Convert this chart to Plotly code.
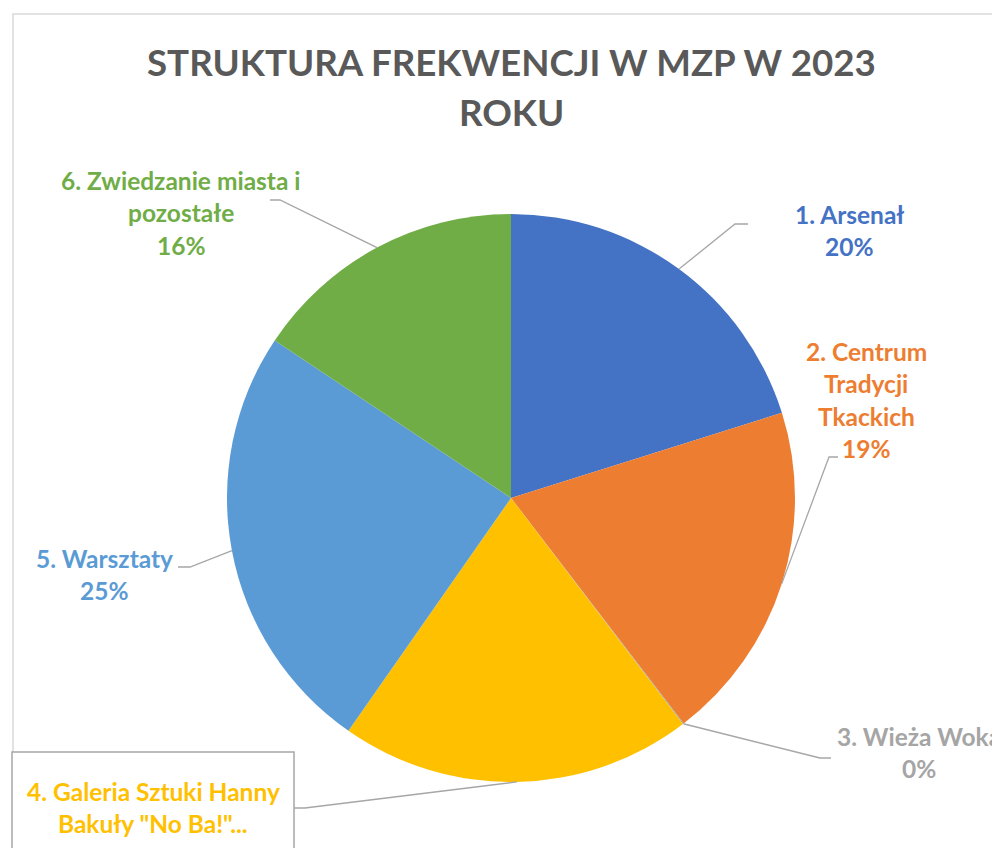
import math
import plotly.graph_objects as go

W, H = 1000, 848

# --- dane ---
kategorie = [
    "1. Arsenał",
    "2. Centrum Tradycji Tkackich",
    "3. Wieża Woka",
    '4. Galeria Sztuki Hanny Bakuły "No Ba!"',
    "5. Warsztaty",
    "6. Zwiedzanie miasta i pozostałe",
]
wartosci = [20.1, 19.4, 0.05, 20.0, 24.6, 15.6]
kolory = ["#4472C4", "#ED7D31", "#A5A5A5", "#FFC000", "#5B9BD5", "#70AD47"]
# etykiety tak, jak zawinął je Excel
etykiety_linie = [
    ["1. Arsenał"],
    ["2. Centrum", "Tradycji", "Tkackich"],
    ["3. Wieża Woka"],
    ["4. Galeria Sztuki Hanny", 'Bakuły "No Ba!"...'],
    ["5. Warsztaty"],
    ["6. Zwiedzanie miasta i", "pozostałe"],
]
pokaz_procent = [True, True, True, False, True, True]

# --- układ (piksele na zrzucie) ---
OFF = 8  # margines body strony
cx, cy, R = 511, 498, 284
# środek etykiety (x, y pierwszej linii)
poz_etykiet = [(849, 214), (866, 351), (919, 736), (153, 791), (104, 558), (181, 180)]
# załamanie linii odniesienia i jej koniec
kolanka = [((735, 224), (748, 224)), ((829, 457), (838, 457)), ((820, 758), (831, 758)),
           ((305, 808), (294, 808)), ((190, 567), (178, 567)), ((280, 200), (270, 200))]
LH = 32.5


def px(x):
    return (x - OFF) / W


def py(y):
    return 1 - (y - OFF) / H


fig = go.Figure(go.Pie(
    labels=kategorie, values=wartosci, sort=False, direction="clockwise", rotation=0,
    marker=dict(colors=kolory, line=dict(color="white", width=0)),
    textinfo="none", hoverinfo="label+percent", showlegend=False,
    domain=dict(x=[px(cx - R), px(cx + R)], y=[py(cy + R), py(cy - R)]),
))

suma = sum(wartosci)
annotations = []
shapes = [dict(type="rect", xref="paper", yref="paper", x0=px(13), x1=px(1030), y0=py(880), y1=py(14),
               line=dict(color="#D9D9D9", width=1.5), layer="below")]

# tytuł
for i, linia in enumerate(["STRUKTURA FREKWENCJI W MZP W 2023", "ROKU"]):
    annotations.append(dict(text=linia, x=px(511), y=py(62 + 50 * i), xref="paper", yref="paper",
                            showarrow=False, xanchor="center", yanchor="middle",
                            font=dict(family="Lato", size=36.7, color="#595959", weight="bold")))

kat = 0
for i, v in enumerate(wartosci):
    mid = kat + v / suma * 180
    kat += v / suma * 360
    a = math.radians(mid)
    sx, sy = cx + R * math.sin(a), cy - R * math.cos(a)
    (ex, ey), (kx, ky) = kolanka[i]
    shapes.append(dict(type="path", xref="paper", yref="paper",
                       path=f"M {px(sx)},{py(sy)} L {px(ex)},{py(ey)} L {px(kx)},{py(ky)}",
                       line=dict(color="#A6A6A6", width=1.3)))
    linie = list(etykiety_linie[i])
    if pokaz_procent[i]:
        linie.append(f"{round(v / suma * 100)}%")
    lx, ly = poz_etykiet[i]
    for j, t in enumerate(linie):
        annotations.append(dict(text=t, x=px(lx), y=py(ly + LH * j), xref="paper", yref="paper",
                                showarrow=False, xanchor="center", yanchor="middle",
                                font=dict(family="Lato", size=24.5, color=kolory[i], weight="bold")))

# ramka etykiety nr 4
shapes.append(dict(type="rect", xref="paper", yref="paper", x0=px(12), x1=px(294), y0=py(880), y1=py(752),
                   line=dict(color="#A6A6A6", width=1.5), fillcolor="white", layer="below"))

fig.update_layout(
    width=W, height=H, margin=dict(l=0, r=0, t=0, b=0),
    paper_bgcolor="white", plot_bgcolor="white",
    annotations=annotations, shapes=shapes,
)

fig.write_html("out.html")
